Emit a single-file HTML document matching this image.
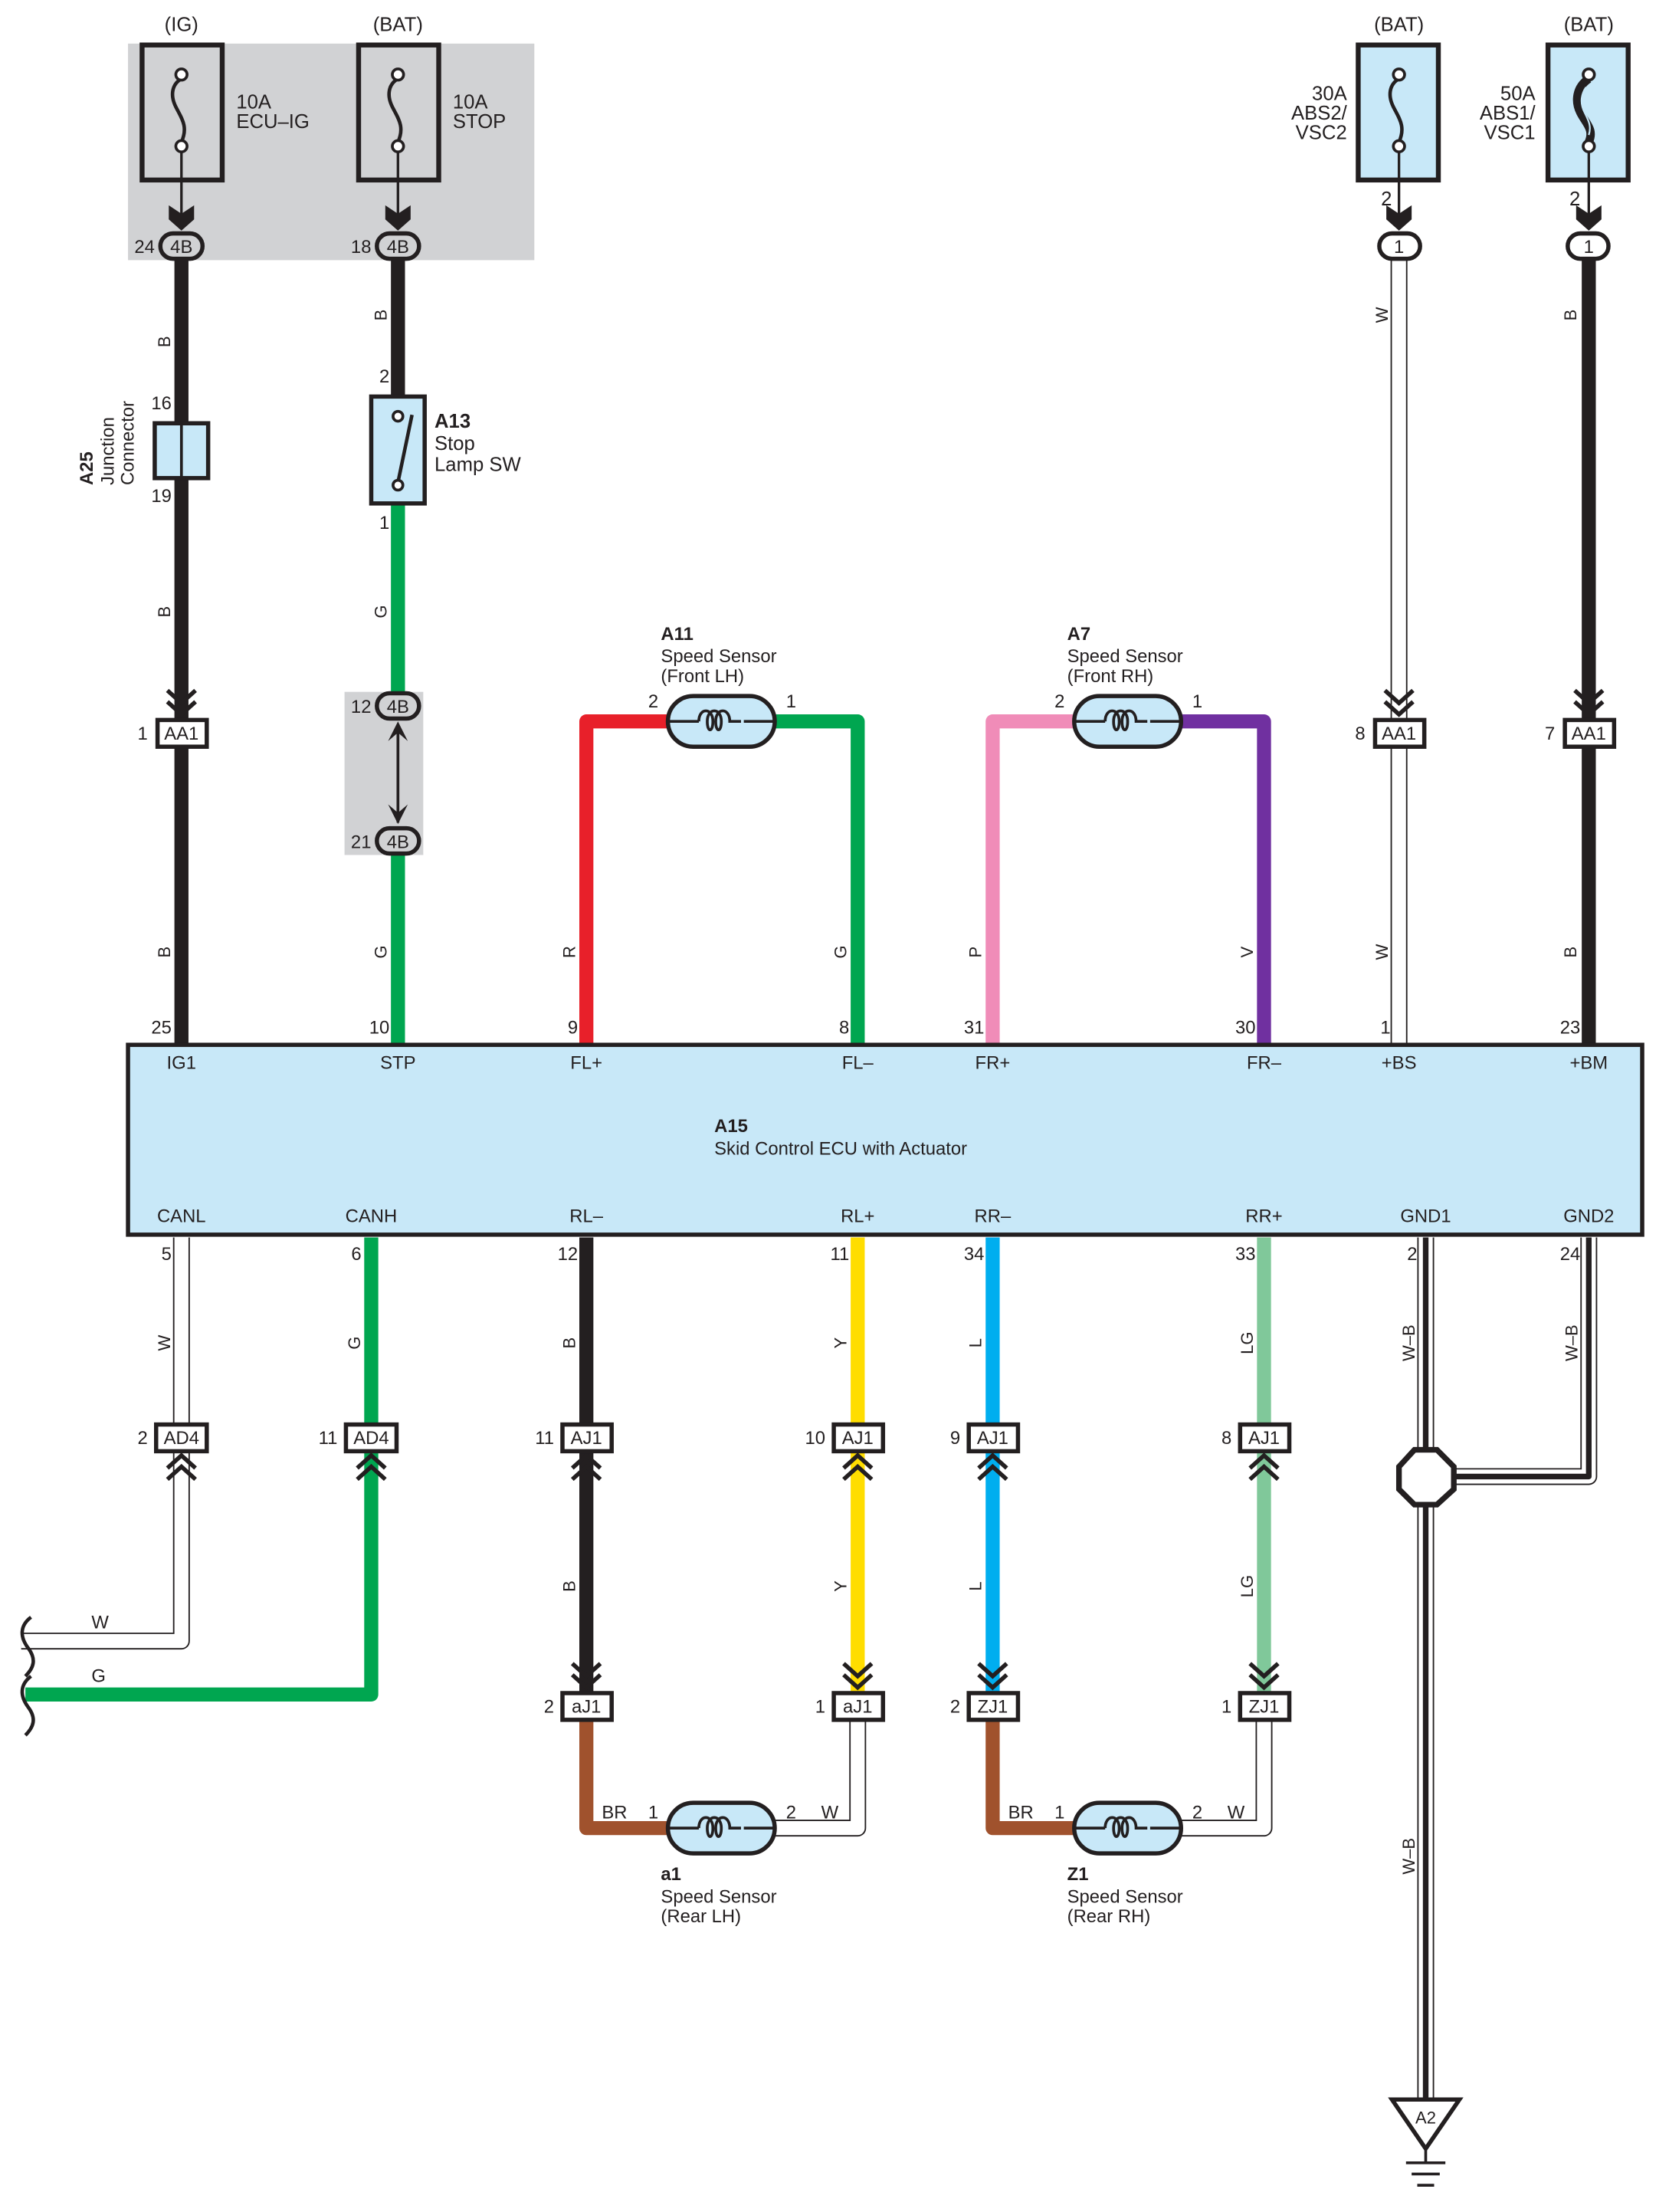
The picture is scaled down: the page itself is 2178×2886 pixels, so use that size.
<!DOCTYPE html>
<html><head><meta charset="utf-8"><style>
html,body{margin:0;padding:0;background:#fff}
svg{display:block}
text{font-family:"Liberation Sans",sans-serif;fill:#231f20}
</style></head><body>
<svg width="2178" height="2886" viewBox="0 0 1187 1573" xmlns="http://www.w3.org/2000/svg">
<defs>
<g id="cd"><polyline points="-10,-19 0,-10 10,-19" fill="none" stroke="#231f20" stroke-width="3"/><polyline points="-10,-11 0,-2 10,-11" fill="none" stroke="#231f20" stroke-width="3"/></g>
<g id="cu"><polyline points="-10,19 0,10 10,19" fill="none" stroke="#231f20" stroke-width="3"/><polyline points="-10,11 0,2 10,11" fill="none" stroke="#231f20" stroke-width="3"/></g>
<path id="fa" d="M-9,-12 L0,-6 L9,-12 L9,-2 L0,6 L-9,-2 Z" fill="#231f20"/>
<path id="fz" d="M0,0 C-7,4 -8,12 -4,20 C0,28 5,34 0,45" fill="none" stroke="#231f20" stroke-width="2.5"/>
<g id="sensor"><rect x="-38" y="-18" width="76" height="36" rx="18" fill="#c8e8f8" stroke="#231f20" stroke-width="3"/><path d="M-38,0 H-16 M16,0 H38" stroke="#231f20" stroke-width="2"/><path d="M-16,0 c0,-10 10,-10 10,0 c0,8 -4,8 -4,0 c0,-10 10,-10 10,0 c0,8 -4,8 -4,0 c0,-10 10,-10 10,0 v0 h8" fill="none" stroke="#231f20" stroke-width="2"/></g>
</defs>

<rect x="91" y="31" width="289" height="154" fill="#d1d2d4"/>
<rect x="245" y="492" width="56" height="116" fill="#d1d2d4"/>

<g font-size="14" text-anchor="middle">
<text x="129" y="22">(IG)</text><text x="283" y="22">(BAT)</text><text x="995" y="22">(BAT)</text><text x="1130" y="22">(BAT)</text>
</g>

<g stroke="#231f20" stroke-width="3.5">
<rect x="101" y="32" width="57" height="96" fill="#d1d2d4"/>
<rect x="255" y="32" width="57" height="96" fill="#d1d2d4"/>
<rect x="966" y="32" width="57" height="96" fill="#c8e8f8"/>
<rect x="1101" y="32" width="57" height="96" fill="#c8e8f8"/>
</g>
<use href="#fz" x="129" y="56"/><use href="#fz" x="283" y="56"/><use href="#fz" x="995" y="56"/>
<path d="M1130,56 C1121,62 1120,72 1124,80 C1128,88 1134,92 1130,101" fill="none" stroke="#231f20" stroke-width="6"/>
<path d="M1128,62 C1124,68 1124,74 1127,80 C1130,86 1132,90 1130,96" fill="none" stroke="#c8e8f8" stroke-width="1.2"/>
<g fill="#fff" stroke="#231f20" stroke-width="2">
<circle cx="129" cy="53" r="4"/><circle cx="129" cy="104" r="4"/>
<circle cx="283" cy="53" r="4"/><circle cx="283" cy="104" r="4"/>
<circle cx="995" cy="53" r="4"/><circle cx="995" cy="104" r="4"/>
<circle cx="1130" cy="53" r="4"/><circle cx="1130" cy="104" r="4"/>
</g>
<g stroke="#231f20" stroke-width="1.8">
<line x1="129" y1="108" x2="129" y2="162"/><line x1="283" y1="108" x2="283" y2="162"/>
<line x1="995" y1="108" x2="995" y2="162"/><line x1="1130" y1="108" x2="1130" y2="162"/>
</g>
<use href="#fa" x="129" y="158"/><use href="#fa" x="283" y="158"/><use href="#fa" x="995" y="158"/><use href="#fa" x="1130" y="158"/>
<g font-size="14">
<text x="168" y="77">10A</text><text x="168" y="91">ECU–IG</text>
<text x="322" y="77">10A</text><text x="322" y="91">STOP</text>
</g>
<g font-size="14" text-anchor="end">
<text x="958" y="71">30A</text><text x="958" y="85">ABS2/</text><text x="958" y="99">VSC2</text>
<text x="1092" y="71">50A</text><text x="1092" y="85">ABS1/</text><text x="1092" y="99">VSC1</text>
<text x="990" y="146">2</text><text x="1124" y="146">2</text>
</g>

<g fill="none" stroke-linejoin="round">
<line x1="129" y1="185" x2="129" y2="743" stroke="#231f20" stroke-width="10"/>
<line x1="283" y1="185" x2="283" y2="283" stroke="#231f20" stroke-width="10"/>
<line x1="283" y1="358" x2="283" y2="492" stroke="#00a650" stroke-width="10"/>
<line x1="283" y1="608" x2="283" y2="743" stroke="#00a650" stroke-width="10"/>
<line x1="283" y1="515" x2="283" y2="585" stroke="#231f20" stroke-width="2"/>
<polyline points="417,743 417,513 476,513" stroke="#e8202a" stroke-width="10"/>
<polyline points="550,513 610,513 610,743" stroke="#00a650" stroke-width="10"/>
<polyline points="706,743 706,513 765,513" stroke="#f08cb8" stroke-width="10"/>
<polyline points="839,513 899,513 899,743" stroke="#7030a0" stroke-width="10"/>
<line x1="995" y1="185" x2="995" y2="743" stroke="#231f20" stroke-width="12"/>
<line x1="995" y1="185" x2="995" y2="743" stroke="#fff" stroke-width="10"/>
<line x1="1130" y1="185" x2="1130" y2="743" stroke="#231f20" stroke-width="10"/>
</g>
<g fill="#d1d2d4" stroke="#231f20" stroke-width="3">
<rect x="114" y="166" width="30" height="18" rx="9"/>
<rect x="268" y="166" width="30" height="18" rx="9"/>
<rect x="268" y="493" width="30" height="18" rx="9"/>
<rect x="268" y="589" width="30" height="18" rx="9"/>
<rect x="981" y="166" width="29" height="18" rx="9" fill="#fff"/>
<rect x="1115" y="166" width="29" height="18" rx="9" fill="#fff"/>
</g>
<path d="M276,527 L283,513 L290,527 L283,521 Z" fill="#231f20"/>
<path d="M276,572 L283,586 L290,572 L283,578 Z" fill="#231f20"/>
<g font-size="13" text-anchor="middle">
<text x="129" y="180">4B</text><text x="283" y="180">4B</text><text x="283" y="507">4B</text><text x="283" y="603">4B</text>
<text x="995" y="180">1</text><text x="1130" y="180">1</text>
</g>
<g font-size="13" text-anchor="end">
<text x="110" y="180">24</text><text x="264" y="180">18</text><text x="264" y="507">12</text><text x="264" y="603">21</text>
<text x="122" y="291">16</text><text x="122" y="357">19</text><text x="277" y="272">2</text><text x="277" y="376">1</text>
</g>
<rect x="110" y="301" width="38" height="39" fill="#c8e8f8" stroke="#231f20" stroke-width="3"/>
<line x1="129" y1="301" x2="129" y2="340" stroke="#231f20" stroke-width="2"/>
<g font-size="13" transform="translate(66,345) rotate(-90)">
<text x="0" y="0" font-weight="bold">A25</text>
<text x="0" y="15">Junction</text><text x="0" y="29">Connector</text>
</g>
<rect x="264" y="282" width="38" height="76" fill="#c8e8f8" stroke="#231f20" stroke-width="3"/>
<line x1="283" y1="343" x2="293" y2="295" stroke="#231f20" stroke-width="2.5"/>
<circle cx="283" cy="296" r="3.5" fill="#fff" stroke="#231f20" stroke-width="2"/>
<circle cx="283" cy="345" r="3.5" fill="#fff" stroke="#231f20" stroke-width="2"/>
<g font-size="14"><text x="309" y="304" font-weight="bold">A13</text><text x="309" y="320">Stop</text><text x="309" y="335">Lamp SW</text></g>

<use href="#sensor" x="513" y="513"/><use href="#sensor" x="802" y="513"/>
<g font-size="13">
<text x="461" y="503">2</text><text x="559" y="503">1</text>
<text x="750" y="503">2</text><text x="848" y="503">1</text>
<text x="470" y="455" font-weight="bold">A11</text><text x="470" y="471">Speed Sensor</text><text x="470" y="485">(Front LH)</text>
<text x="759" y="455" font-weight="bold">A7</text><text x="759" y="471">Speed Sensor</text><text x="759" y="485">(Front RH)</text>
</g>

<use href="#cd" x="129" y="510"/><use href="#cd" x="995" y="510"/><use href="#cd" x="1130" y="510"/>
<g fill="#fff" stroke="#231f20" stroke-width="3">
<rect x="112" y="512" width="35" height="19"/><rect x="978" y="512" width="35" height="19"/><rect x="1113" y="512" width="35" height="19"/>
</g>
<g font-size="13" text-anchor="middle"><text x="129" y="526">AA1</text><text x="995" y="526">AA1</text><text x="1130" y="526">AA1</text></g>
<g font-size="13" text-anchor="end"><text x="105" y="526">1</text><text x="971" y="526">8</text><text x="1106" y="526">7</text></g>

<g font-size="12" text-anchor="middle">
<text transform="translate(121,243) rotate(-90)">B</text>
<text transform="translate(275,224) rotate(-90)">B</text>
<text transform="translate(121,435) rotate(-90)">B</text>
<text transform="translate(275,435) rotate(-90)">G</text>
<text transform="translate(121,677) rotate(-90)">B</text>
<text transform="translate(275,677) rotate(-90)">G</text>
<text transform="translate(409,677) rotate(-90)">R</text>
<text transform="translate(602,677) rotate(-90)">G</text>
<text transform="translate(698,677) rotate(-90)">P</text>
<text transform="translate(891,677) rotate(-90)">V</text>
<text transform="translate(987,224) rotate(-90)">W</text>
<text transform="translate(987,677) rotate(-90)">W</text>
<text transform="translate(1121,224) rotate(-90)">B</text>
<text transform="translate(1121,677) rotate(-90)">B</text>
</g>
<g font-size="13" text-anchor="end">
<text x="122" y="735">25</text><text x="277" y="735">10</text><text x="411" y="735">9</text><text x="604" y="735">8</text>
<text x="700" y="735">31</text><text x="893" y="735">30</text><text x="989" y="735">1</text><text x="1124" y="735">23</text>
</g>

<rect x="91" y="743" width="1077" height="135" fill="#c8e8f8" stroke="#231f20" stroke-width="3"/>
<g font-size="13" text-anchor="middle">
<text x="129" y="760">IG1</text><text x="283" y="760">STP</text><text x="417" y="760">FL+</text><text x="610" y="760">FL–</text>
<text x="706" y="760">FR+</text><text x="899" y="760">FR–</text><text x="995" y="760">+BS</text><text x="1130" y="760">+BM</text>
<text x="129" y="869">CANL</text><text x="264" y="869">CANH</text><text x="417" y="869">RL–</text><text x="610" y="869">RL+</text>
<text x="706" y="869">RR–</text><text x="899" y="869">RR+</text><text x="1014" y="869">GND1</text><text x="1130" y="869">GND2</text>
</g>
<text x="508" y="805" font-size="13" font-weight="bold">A15</text>
<text x="508" y="821" font-size="13">Skid Control ECU with Actuator</text>

<g fill="none" stroke-linejoin="round">
<polyline points="129,880 129,1167 15,1167" stroke="#231f20" stroke-width="12"/>
<polyline points="129,880 129,1167 15,1167" stroke="#fff" stroke-width="10"/>
<polyline points="264,880 264,1205 18,1205" stroke="#00a650" stroke-width="10"/>
<line x1="417" y1="880" x2="417" y2="1205" stroke="#231f20" stroke-width="10"/>
<line x1="610" y1="880" x2="610" y2="1205" stroke="#ffdd00" stroke-width="10"/>
<line x1="706" y1="880" x2="706" y2="1205" stroke="#00aeef" stroke-width="10"/>
<line x1="899" y1="880" x2="899" y2="1205" stroke="#80c89a" stroke-width="10"/>
<polyline points="417,1223 417,1300 476,1300" stroke="#a0522d" stroke-width="10"/>
<polyline points="706,1223 706,1300 765,1300" stroke="#a0522d" stroke-width="10"/>
<polyline points="550,1300 610,1300 610,1223" stroke="#231f20" stroke-width="12"/>
<polyline points="550,1300 610,1300 610,1223" stroke="#fff" stroke-width="10"/>
<polyline points="839,1300 899,1300 899,1223" stroke="#231f20" stroke-width="12"/>
<polyline points="839,1300 899,1300 899,1223" stroke="#fff" stroke-width="10"/>
<line x1="1014" y1="880" x2="1014" y2="1495" stroke="#231f20" stroke-width="12"/>
<line x1="1014" y1="880" x2="1014" y2="1495" stroke="#fff" stroke-width="10"/>
<line x1="1014" y1="880" x2="1014" y2="1495" stroke="#231f20" stroke-width="4"/>
<polyline points="1130,880 1130,1050 1014,1050" stroke="#231f20" stroke-width="12"/>
<polyline points="1130,880 1130,1050 1014,1050" stroke="#fff" stroke-width="10"/>
<polyline points="1130,880 1130,1050 1014,1050" stroke="#231f20" stroke-width="4"/>
</g>
<g fill="none" stroke="#231f20" stroke-width="2.5">
<path d="M22,1150 c-8,6 -8,14 -2,22 c6,8 4,14 -2,20"/>
<path d="M22,1192 c-8,6 -8,14 -2,22 c6,8 4,14 -2,20"/>
</g>
<polygon points="1006,1031 1022,1031 1034,1043 1034,1059 1022,1070 1006,1070 995,1059 995,1043" fill="#fff" stroke="#231f20" stroke-width="4"/>
<polygon points="990,1493 1038,1493 1014,1528" fill="#fff" stroke="#231f20" stroke-width="3"/>
<text x="1014" y="1510" font-size="12" text-anchor="middle">A2</text>
<g stroke="#231f20" stroke-width="2">
<line x1="1014" y1="1528" x2="1014" y2="1538"/>
<line x1="1000" y1="1538" x2="1028" y2="1538"/><line x1="1004" y1="1546" x2="1024" y2="1546"/><line x1="1008" y1="1554" x2="1020" y2="1554"/>
</g>

<use href="#cu" x="129" y="1033"/><use href="#cu" x="264" y="1033"/><use href="#cu" x="417" y="1033"/><use href="#cu" x="610" y="1033"/><use href="#cu" x="706" y="1033"/><use href="#cu" x="899" y="1033"/>
<use href="#cd" x="417" y="1202"/><use href="#cd" x="610" y="1202"/><use href="#cd" x="706" y="1202"/><use href="#cd" x="899" y="1202"/>
<g fill="#fff" stroke="#231f20" stroke-width="3">
<rect x="111" y="1013" width="36" height="19"/><rect x="246" y="1013" width="36" height="19"/>
<rect x="400" y="1013" width="35" height="19"/><rect x="593" y="1013" width="35" height="19"/><rect x="689" y="1013" width="35" height="19"/><rect x="882" y="1013" width="35" height="19"/>
<rect x="400" y="1204" width="35" height="19"/><rect x="593" y="1204" width="35" height="19"/><rect x="689" y="1204" width="35" height="19"/><rect x="882" y="1204" width="35" height="19"/>
</g>
<g font-size="13" text-anchor="middle">
<text x="129" y="1027">AD4</text><text x="264" y="1027">AD4</text>
<text x="417" y="1027">AJ1</text><text x="610" y="1027">AJ1</text><text x="706" y="1027">AJ1</text><text x="899" y="1027">AJ1</text>
<text x="417" y="1218">aJ1</text><text x="610" y="1218">aJ1</text><text x="706" y="1218">ZJ1</text><text x="899" y="1218">ZJ1</text>
</g>
<g font-size="13" text-anchor="end">
<text x="105" y="1027">2</text><text x="240" y="1027">11</text><text x="394" y="1027">11</text><text x="587" y="1027">10</text><text x="683" y="1027">9</text><text x="876" y="1027">8</text>
<text x="394" y="1218">2</text><text x="587" y="1218">1</text><text x="683" y="1218">2</text><text x="876" y="1218">1</text>
<text x="122" y="896">5</text><text x="257" y="896">6</text><text x="411" y="896">12</text><text x="604" y="896">11</text>
<text x="700" y="896">34</text><text x="893" y="896">33</text><text x="1008" y="896">2</text><text x="1124" y="896">24</text>
</g>
<g font-size="12" text-anchor="middle">
<text transform="translate(121,955) rotate(-90)">W</text>
<text transform="translate(256,955) rotate(-90)">G</text>
<text transform="translate(409,955) rotate(-90)">B</text>
<text transform="translate(602,955) rotate(-90)">Y</text>
<text transform="translate(698,955) rotate(-90)">L</text>
<text transform="translate(891,955) rotate(-90)">LG</text>
<text transform="translate(1006,955) rotate(-90)">W–B</text>
<text transform="translate(1122,955) rotate(-90)">W–B</text>
<text transform="translate(409,1128) rotate(-90)">B</text>
<text transform="translate(602,1128) rotate(-90)">Y</text>
<text transform="translate(698,1128) rotate(-90)">L</text>
<text transform="translate(891,1128) rotate(-90)">LG</text>
<text transform="translate(1006,1320) rotate(-90)">W–B</text>
</g>
<g font-size="13">
<text x="65" y="1158">W</text><text x="65" y="1196">G</text>
<text x="428" y="1293">BR</text><text x="461" y="1293">1</text><text x="559" y="1293">2</text><text x="584" y="1293">W</text>
<text x="717" y="1293">BR</text><text x="750" y="1293">1</text><text x="848" y="1293">2</text><text x="873" y="1293">W</text>
</g>
<use href="#sensor" x="513" y="1300"/><use href="#sensor" x="802" y="1300"/>
<g font-size="13">
<text x="470" y="1337" font-weight="bold">a1</text><text x="470" y="1353">Speed Sensor</text><text x="470" y="1367">(Rear LH)</text>
<text x="759" y="1337" font-weight="bold">Z1</text><text x="759" y="1353">Speed Sensor</text><text x="759" y="1367">(Rear RH)</text>
</g>
</svg>
</body></html>
